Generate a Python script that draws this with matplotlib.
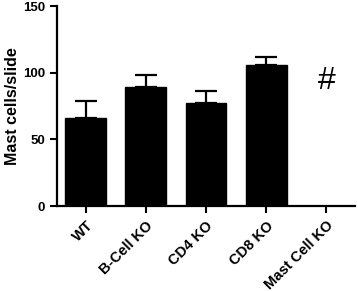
import numpy as np
import matplotlib
matplotlib.use('Agg')
import matplotlib.pyplot as plt

groups = ['WT', 'B-Cell KO', 'CD4 KO', 'CD8 KO', 'Mast Cell KO']
means = [66, 89, 77, 106, 0]
sems = [12.5, 9.5, 9.5, 5.5, 0]
hash_y = 94

plt.rcParams['font.family'] = ['Liberation Sans', 'DejaVu Sans']
plt.rcParams['font.weight'] = 'bold'

fig = plt.figure(figsize=(3.58, 2.91), dpi=100)
ax = fig.add_axes([0.159, 0.292, 0.833, 0.687])
x = np.arange(len(groups))
ax.bar(x, means, width=0.68, color='black', edgecolor='black', lw=1)
ax.errorbar(x[:4], means[:4], yerr=[np.zeros(4), sems[:4]], fmt='none',
            ecolor='black', elinewidth=1.6, capsize=8, capthick=1.6)
ax.text(x[4], hash_y, '#', ha='center', va='center', fontsize=23, fontweight='normal')

ax.set_xlim(-0.48, 4.48)
ax.set_ylim(0, 150)
ax.set_yticks([0, 50, 100, 150])
ax.set_xticks(x)
ax.set_xticklabels(groups, rotation=45, ha='right', rotation_mode='anchor', fontsize=10.5)
ax.tick_params(axis='y', labelsize=9.5, width=1.5, length=5)
ax.tick_params(axis='x', width=1.5, length=5, pad=4)
for s in ['top', 'right']:
    ax.spines[s].set_visible(False)
for s in ['left', 'bottom']:
    ax.spines[s].set_linewidth(1.6)
ax.set_ylabel('Mast cells/slide', fontsize=11.5, fontweight='bold', labelpad=2)

fig.savefig('out.png', dpi=100)
